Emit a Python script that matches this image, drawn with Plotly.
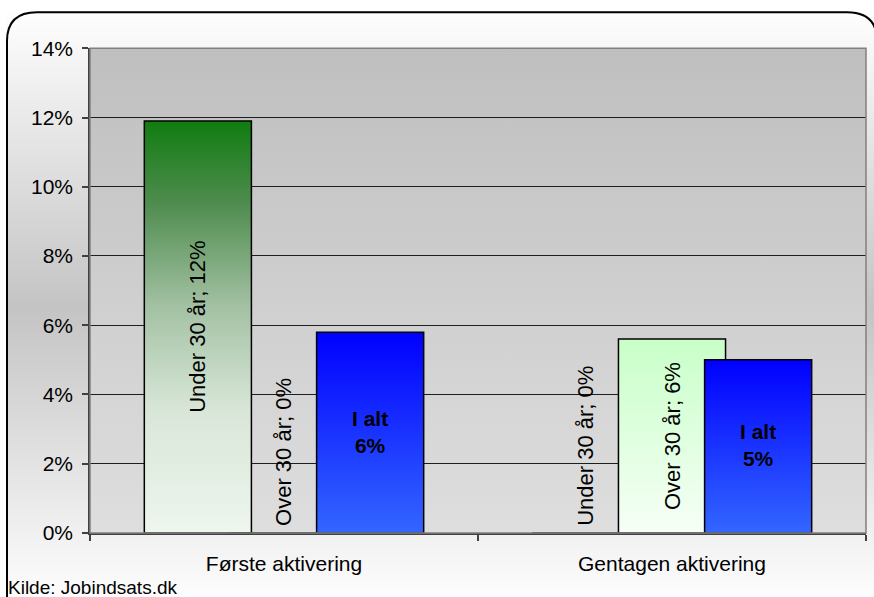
import plotly.graph_objects as go

# ---------------- data ----------------
categories = ["Første aktivering", "Gentagen aktivering"]
series_names = ["Under 30 år", "Over 30 år", "I alt"]
under30 = [11.9, 0.0]
over30 = [0.0, 5.6]
total = [5.8, 5.0]
y_ticks = [0, 2, 4, 6, 8, 10, 12, 14]
y_tick_labels = ["0%", "2%", "4%", "6%", "8%", "10%", "12%", "14%"]
source_text = "Kilde: Jobindsats.dk"

# ---------------- style ----------------
W, H = 874, 609
FONT = "Liberation Sans, Arial, sans-serif"


def fy(y_screen):
    """screen pixel row -> figure pixel row (compensates page capture)"""
    return y_screen * (620.0 / 597.0) - 11.1


PX_L, PX_R = 90, 866
PY_T, PY_B = fy(47), fy(532)
bar_offsets = [-0.222, 0.0, 0.222]
bar_width = 0.276
series_values = [under30, over30, total]
gradients = [
    [[0, "#eef6ee"], [0.3, "#d8e6d8"], [0.55, "#a3c1a3"], [0.8, "#4f8c4f"], [1, "#107c10"]],
    [[0, "#f6fff6"], [1, "#c8ffc8"]],
    [[0, "#3366ff"], [1, "#0000ff"]],
]

fig = go.Figure()

# background subplot (figure pixel coordinates, y up)
fig.add_trace(go.Scatter(
    x=[6, 880, 880, 6, 6], y=[H + 5, H + 5, -10, -10, H + 5],
    xaxis="x", yaxis="y", mode="lines", line=dict(width=0),
    fill="toself",
    fillgradient=dict(type="vertical",
                      colorscale=[[0, "#ffffff"], [0.5, "#c4c4c4"], [1, "#ffffff"]]),
    hoverinfo="skip", showlegend=False))
fig.add_trace(go.Scatter(
    x=[PX_L, PX_R, PX_R, PX_L, PX_L],
    y=[H - PY_B, H - PY_B, H - PY_T, H - PY_T, H - PY_B],
    xaxis="x", yaxis="y", mode="lines", line=dict(width=0),
    fill="toself",
    fillgradient=dict(type="vertical",
                      colorscale=[[0, "#dedede"], [1, "#bfbfbf"]]),
    hoverinfo="skip", showlegend=False))

# bars (drawn from data on the main axes)
annotations = []
for si, (name, vals) in enumerate(zip(series_names, series_values)):
    for ci, v in enumerate(vals):
        c = ci + bar_offsets[si]
        x0, x1 = c - bar_width / 2, c + bar_width / 2
        fig.add_trace(go.Scatter(
            x=[x0, x0, x1, x1, x0], y=[0, v, v, 0, 0],
            xaxis="x2", yaxis="y2", mode="lines",
            line=dict(color="#000000", width=1.5),
            fill="toself",
            fillgradient=dict(type="vertical", colorscale=gradients[si]),
            hoverinfo="skip", showlegend=False))
        if si < 2:
            txt = f"{name}; {v:.0f}%"
            if v > 0:
                annotations.append(dict(x=c, y=v / 2, xref="x2", yref="y2", text=txt,
                                        textangle=-90, showarrow=False,
                                        font=dict(family=FONT, size=22, color="#000"),
                                        xanchor="center", yanchor="middle"))
            else:
                annotations.append(dict(x=c, y=0, xref="x2", yref="y2", text=txt,
                                        textangle=-90, showarrow=False,
                                        font=dict(family=FONT, size=22, color="#000"),
                                        xanchor="center", yanchor="bottom", yshift=5))
        else:
            annotations.append(dict(x=c, y=v / 2, xref="x2", yref="y2",
                                    text=f"<b>{name}<br>{v:.0f}%</b>",
                                    showarrow=False, yshift=1,
                                    font=dict(family=FONT, size=21, color="#000"),
                                    xanchor="center", yanchor="middle"))

annotations.append(dict(x=6 / W, y=1 - fy(599) / H, xref="paper", yref="paper",
                        text=source_text, showarrow=False,
                        xanchor="left", yanchor="bottom",
                        font=dict(family=FONT, size=19, color="#000")))


# rounded border
def px(x):
    return x / W


def py(y):
    return 1 - y / H


L, T, R, B, r = 7, 0.3, 877, 640, 30
path = (f"M {px(L + r)},{py(T)} L {px(R - r)},{py(T)} Q {px(R)},{py(T)} {px(R)},{py(T + r)} "
        f"L {px(R)},{py(B - r)} Q {px(R)},{py(B)} {px(R - r)},{py(B)} "
        f"L {px(L + r)},{py(B)} Q {px(L)},{py(B)} {px(L)},{py(B - r)} "
        f"L {px(L)},{py(T + r)} Q {px(L)},{py(T)} {px(L + r)},{py(T)} Z")

shapes = [
    dict(type="rect", xref="x2 domain", yref="y2 domain", x0=0, x1=1, y0=0, y1=1,
         line=dict(color="#808080", width=1.5), layer="above"),
    dict(type="path", path=path, xref="paper", yref="paper",
         line=dict(color="#000000", width=2), layer="above"),
]

fig.update_layout(
    width=W, height=H,
    margin=dict(l=0, r=0, t=0, b=0),
    paper_bgcolor="#ffffff", plot_bgcolor="rgba(0,0,0,0)",
    showlegend=False,
    font=dict(family=FONT, size=21, color="#000"),
    xaxis=dict(domain=[0, 1], range=[0, W], visible=False, fixedrange=True),
    yaxis=dict(domain=[0, 1], range=[0, H], visible=False, fixedrange=True),
    xaxis2=dict(domain=[PX_L / W, PX_R / W], anchor="y2", range=[-0.5, 1.5],
                tickvals=[0, 1], ticktext=categories, ticks="", showgrid=False,
                zeroline=False, showline=True, linecolor="#404040", linewidth=1.5,
                ticklabelstandoff=11,
                minor=dict(tick0=-0.5, dtick=1, ticks="outside", ticklen=6,
                           tickcolor="#404040", tickwidth=1.5, showgrid=False),
                tickfont=dict(family=FONT, size=21, color="#000")),
    yaxis2=dict(domain=[1 - PY_B / H, 1 - PY_T / H], anchor="x2", range=[0, 14],
                tickvals=y_ticks, ticktext=y_tick_labels, ticks="outside", ticklen=6,
                tickcolor="#404040", tickwidth=1.5, showgrid=True, gridcolor="#1e1e1e",
                gridwidth=1, zeroline=False, showline=True, linecolor="#404040",
                linewidth=1.5, ticklabelstandoff=5,
                tickfont=dict(family=FONT, size=21, color="#000")),
    annotations=annotations,
    shapes=shapes,
)

fig.write_html(
    "out.html",
    config={"displayModeBar": False},
    post_script="document.body.style.margin='0';document.body.style.overflow='hidden';",
)
